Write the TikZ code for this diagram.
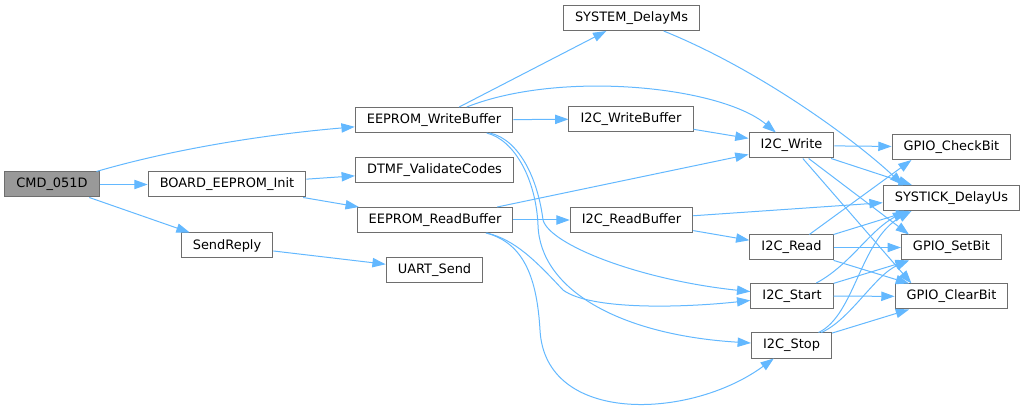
\documentclass[tikz,border=0pt]{standalone}
\usepackage{fontspec}
\setmainfont{DejaVu Sans}
\usepackage{tikz}
\usetikzlibrary{arrows.meta}
\definecolor{edgeblue}{RGB}{99,184,255}
\definecolor{boxgray}{RGB}{110,110,110}
\definecolor{rootgray}{RGB}{153,153,153}

\begin{document}
\begin{tikzpicture}[x=0.75pt, y=-0.75pt,
    fn/.style={draw=boxgray, fill=white, line width=0.75pt, inner xsep=8.7pt,
               inner ysep=0pt, minimum height=18.75pt,
               font=\fontsize{9.7}{11}\selectfont},
    root/.style={fn, fill=rootgray},
    call/.style={-{Triangle[length=10pt,width=7pt]}, edgeblue, line width=0.75pt}]
    \useasboundingbox (0,0) rectangle (1027,416);

    %% callers
    \node[root] (cmd)       at (52,184.5)  {CMD\_051D};
    \node[fn]   (boardinit) at (227,184.5) {BOARD\_EEPROM\_Init};
    \node[fn]   (sendreply) at (227,245.5) {SendReply};
    \node[fn]   (wrbuf)     at (434,120)   {EEPROM\_WriteBuffer};
    \node[fn]   (dtmf)      at (434.5,170.5) {DTMF\_ValidateCodes};
    \node[fn]   (rdbuf)     at (435,220)   {EEPROM\_ReadBuffer};
    \node[fn]   (uart)      at (434.5,270) {UART\_Send};
    \node[fn]   (delayms)   at (631.5,18)  {SYSTEM\_DelayMs};
    \node[fn]   (i2cwrbuf)  at (631,119)   {I2C\_WriteBuffer};
    \node[fn]   (i2crdbuf)  at (631.5,220) {I2C\_ReadBuffer};
    \node[fn]   (i2cwrite)  at (791.5,145.5) {I2C\_Write};
    \node[fn]   (i2cread)   at (791.5,247.5) {I2C\_Read};
    \node[fn]   (i2cstart)  at (792,296)   {I2C\_Start};
    \node[fn]   (i2cstop)   at (791.5,345.5) {I2C\_Stop};
    %% leaves
    \node[fn]   (checkbit)  at (951.5,147)   {GPIO\_CheckBit};
    \node[fn]   (delayus)   at (951.5,198)   {SYSTICK\_DelayUs};
    \node[fn]   (setbit)    at (951.5,247.5) {GPIO\_SetBit};
    \node[fn]   (clearbit)  at (951.5,296.5) {GPIO\_ClearBit};

    %% CMD_051D and first level
    \draw[call] (cmd) .. controls (170,150) and (260,135) .. (wrbuf);
    \draw[call] (cmd) -- (boardinit);
    \draw[call] (cmd) -- (sendreply);
    \draw[call] (boardinit) -- (dtmf);
    \draw[call] (boardinit) -- (rdbuf);
    \draw[call] (sendreply) -- (uart);

    %% EEPROM_WriteBuffer
    \draw[call] (wrbuf) -- (delayms);
    \draw[call] (wrbuf) .. controls (560,70) and (720,86) .. (i2cwrite);
    \draw[call] (wrbuf) -- (i2cwrbuf);
    \draw[call] (wrbuf) .. controls (520,140) and (538,180) .. (543,220)
                        .. controls (550,245) and (640,280) .. (i2cstart);
    \draw[call] (wrbuf) .. controls (515,140) and (536,180) .. (538,225)
                        .. controls (540,290) and (620,335) .. (i2cstop);

    %% EEPROM_ReadBuffer
    \draw[call] (rdbuf) -- (i2cwrite);
    \draw[call] (rdbuf) -- (i2crdbuf);
    \draw[call] (rdbuf) .. controls (515,240) and (535,260) .. (563,290)
                        .. controls (590,310) and (680,308) .. (i2cstart);
    \draw[call] (rdbuf) .. controls (525,243) and (537,280) .. (540,330)
                        .. controls (545,425) and (690,420) .. (i2cstop);

    %% second level
    \draw[call] (delayms) .. controls (760,70) and (855,140) .. (delayus.165);
    \draw[call] (i2cwrbuf) -- (i2cwrite);
    \draw[call] (i2crdbuf) -- (delayus);
    \draw[call] (i2crdbuf) -- (i2cread);

    %% I2C_Write / I2C_Read
    \draw[call] (i2cwrite) -- (checkbit);
    \draw[call] (i2cwrite) -- (delayus);
    \draw[call] (i2cwrite) -- (setbit.163);
    \draw[call] (i2cwrite) -- (clearbit.162);
    \draw[call] (i2cread) -- (checkbit.198);
    \draw[call] (i2cread) -- (delayus);
    \draw[call] (i2cread) -- (setbit);
    \draw[call] (i2cread) -- (clearbit);

    %% I2C_Start / I2C_Stop
    \draw[call] (i2cstart) .. controls (850,265) and (870,230) .. (delayus.196);
    \draw[call] (i2cstart) -- (setbit);
    \draw[call] (i2cstart) -- (clearbit);
    \draw[call] (i2cstop) .. controls (855,315) and (860,240) .. (delayus.198);
    \draw[call] (i2cstop) .. controls (850,320) and (875,275) .. (setbit.197);
    \draw[call] (i2cstop) -- (clearbit);
\end{tikzpicture}
\end{document}
